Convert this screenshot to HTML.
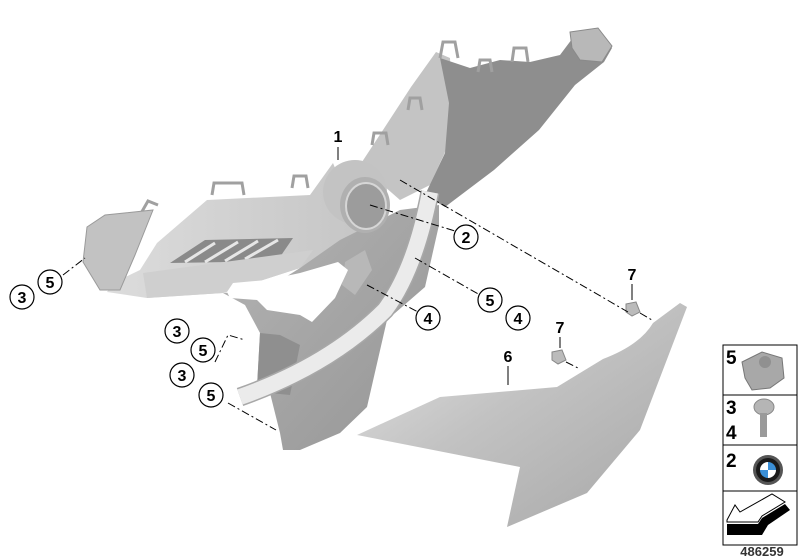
<!DOCTYPE html>
<html><head><meta charset="utf-8"><style>
html,body{margin:0;padding:0;background:#fff;}
svg{display:block;}
text{font-family:"Liberation Sans",sans-serif;font-weight:bold;}
</style></head><body>
<svg width="800" height="560" viewBox="0 0 800 560" xmlns="http://www.w3.org/2000/svg">
<defs>
<linearGradient id="g6" x1="0" y1="0" x2="1" y2="1">
<stop offset="0" stop-color="#e4e4e4"/><stop offset="0.45" stop-color="#c2c2c2"/><stop offset="1" stop-color="#a6a6a6"/>
</linearGradient>
<linearGradient id="gL" x1="0" y1="0" x2="1" y2="0">
<stop offset="0" stop-color="#dcdcdc"/><stop offset="1" stop-color="#c6c6c6"/>
</linearGradient>
<linearGradient id="gLow" x1="0" y1="0" x2="1" y2="1">
<stop offset="0" stop-color="#b4b4b4"/><stop offset="1" stop-color="#959595"/>
</linearGradient>
</defs>

<polygon points="436,52 450,58 452,100 446,150 430,185 400,200 360,165 383,130 411,87" fill="#c4c4c4"/>
<polygon points="440,58 470,68 500,60 530,62 560,55 575,35 600,30 612,48 604,62 575,85 539,130 494,170 445,207 425,195 445,153 449,103" fill="#8e8e8e"/>
<polygon points="570,32 598,28 612,46 602,62 580,60 572,48" fill="#b8b8b8" stroke="#8a8a8a"/>
<g fill="none" stroke="#a0a0a0" stroke-width="3">
<path d="M440,58 l3,-16 l12,0 l3,16"/><path d="M478,72 l2,-12 l10,0 l2,12"/>
<path d="M512,62 l2,-14 l12,0 l2,14"/><path d="M408,110 l2,-12 l10,0 l2,12"/>
<path d="M372,145 l2,-12 l12,0 l2,12"/><path d="M292,188 l2,-12 l12,0 l2,12"/>
<path d="M212,195 l2,-12 l28,0 l2,12"/><path d="M140,215 l8,-14 l10,4"/>
</g>

<polygon points="333,163 310,195 207,200 157,243 140,270 113,283 107,292 147,298 223,293 300,268 360,230" fill="url(#gL)"/>
<polygon points="170,263 205,240 293,238 280,257 230,262" fill="#8a8a8a"/>
<g stroke="#e6e6e6" stroke-width="3">
<line x1="185" y1="262" x2="215" y2="243"/><line x1="205" y1="262" x2="238" y2="242"/>
<line x1="225" y1="261" x2="258" y2="241"/><line x1="245" y1="259" x2="278" y2="240"/>
</g>
<polygon points="143,273 313,250 300,268 223,293 147,298" fill="#cfcfcf"/>
<polygon points="87,227 105,215 153,210 135,255 120,290 100,290 83,262" fill="#c2c2c2" stroke="#9a9a9a" stroke-width="1"/>

<polygon points="223,293 265,290 300,268 340,240 400,210 439,205 439,225 425,287 387,320 367,407 340,433 300,450 283,450 280,433 270,393 257,387 260,333 245,305" fill="url(#gLow)"/>
<polygon points="260,333 280,335 300,345 290,395 270,393 257,387" fill="#8f8f8f"/>
<polygon points="345,262 365,250 372,270 355,295 342,285" fill="#b8b8b8"/>
<polygon points="227,292 233,283 267,280 300,273 338,262 348,270 335,298 312,322 300,315 267,310 257,300 230,298" fill="#fff"/>
<path d="M430,192 Q415,270 385,310 Q330,365 240,397" fill="none" stroke="#a8a8a8" stroke-width="19" stroke-linecap="butt"/>
<path d="M430,192 Q415,270 385,310 Q330,365 240,397" fill="none" stroke="#ebebeb" stroke-width="16" stroke-linecap="butt"/>

<circle cx="355" cy="192" r="32" fill="#c3c3c3"/>
<ellipse cx="365" cy="205" rx="25" ry="28" fill="#b0b0b0"/>
<ellipse cx="366" cy="206" rx="20" ry="23" fill="#9c9c9c" stroke="#d6d6d6" stroke-width="2"/>

<path d="M357,435 L440,397 L557,387 L603,359 Q640,345 653,323 L680,303 L687,307 L640,430 L587,493 L507,527 L520,467 Z" fill="url(#g6)"/>

<polygon points="626,304 636,302 640,312 632,316 626,312" fill="#bbb" stroke="#888"/>
<polygon points="552,352 562,350 566,360 558,364 552,360" fill="#bbb" stroke="#888"/>

<g stroke="#000" stroke-width="1" fill="none">
<line x1="338" y1="147" x2="338" y2="160"/>
<line x1="632" y1="284" x2="632" y2="300"/>
<line x1="560" y1="337" x2="560" y2="348"/>
<line x1="508" y1="366" x2="508" y2="385"/>
<g stroke-dasharray="8,3,2,3">
<line x1="400" y1="180" x2="628" y2="312"/>
<line x1="370" y1="205" x2="455" y2="231"/>
<line x1="415" y1="258" x2="480" y2="295"/>
<line x1="367" y1="285" x2="418" y2="312"/>
<polyline points="215,362 228,335 245,340"/>
<line x1="228" y1="403" x2="276" y2="430"/>
<line x1="63" y1="275" x2="85" y2="258"/>
<line x1="640" y1="313" x2="652" y2="320"/>
<line x1="566" y1="362" x2="580" y2="369"/>
</g>
</g>

<g fill="#fff" stroke="#000" stroke-width="1.2">
<circle cx="466" cy="237" r="12"/><circle cx="490" cy="300" r="12"/><circle cx="518" cy="318" r="12"/>
<circle cx="428" cy="318" r="12"/><circle cx="22" cy="297" r="12"/><circle cx="50" cy="282" r="12"/>
<circle cx="177" cy="331" r="12"/><circle cx="203" cy="350" r="12"/>
<circle cx="182" cy="375" r="12"/><circle cx="211" cy="395" r="12"/>
</g>
<g font-size="16" text-anchor="middle" fill="#000">
<text x="466" y="243">2</text><text x="490" y="306">5</text><text x="518" y="324">4</text>
<text x="428" y="324">4</text><text x="22" y="303">3</text><text x="50" y="288">5</text>
<text x="177" y="337">3</text><text x="203" y="356">5</text>
<text x="182" y="381">3</text><text x="211" y="401">5</text>
<text x="338" y="142">1</text>
<text x="632" y="280">7</text>
<text x="560" y="333">7</text>
<text x="508" y="362">6</text>
</g>

<g fill="#fff" stroke="#000" stroke-width="1">
<rect x="723" y="345" width="74" height="50"/><rect x="723" y="395" width="74" height="50"/>
<rect x="723" y="445" width="74" height="46"/><rect x="723" y="491" width="74" height="54"/>
</g>
<g font-size="19" fill="#000">
<text x="726" y="364">5</text><text x="726" y="414">3</text><text x="726" y="439">4</text><text x="726" y="467">2</text>
</g>
<polygon points="742,362 762,352 782,358 784,378 770,388 752,390 745,378" fill="#a8a8a8" stroke="#777"/>
<circle cx="765" cy="362" r="6" fill="#909090"/>
<ellipse cx="764" cy="407" rx="10" ry="8" fill="#b5b5b5" stroke="#888"/>
<rect x="760" y="413" width="7" height="24" fill="#9a9a9a"/>
<circle cx="768" cy="470" r="15" fill="#555"/>
<circle cx="768" cy="470" r="12" fill="#1a1a1a"/>
<path d="M768,462 A8,8 0 0 1 776,470 L768,470 Z" fill="#3b8fd6"/>
<path d="M768,478 A8,8 0 0 1 760,470 L768,470 Z" fill="#3b8fd6"/>
<path d="M760,470 A8,8 0 0 1 768,462 L768,470 Z" fill="#fff"/>
<path d="M776,470 A8,8 0 0 1 768,478 L768,470 Z" fill="#fff"/>
<polygon points="727,520 735,505 740,512 772,494 785,502 762,516 758,522 727,522" fill="#fff" stroke="#000" stroke-width="1"/>
<polygon points="727,524 758,524 762,518 785,504 790,510 768,525 762,535 727,535" fill="#000"/>
<text x="762" y="556" font-size="13" text-anchor="middle" font-weight="normal" fill="#333">486259</text>
</svg>
</body></html>
